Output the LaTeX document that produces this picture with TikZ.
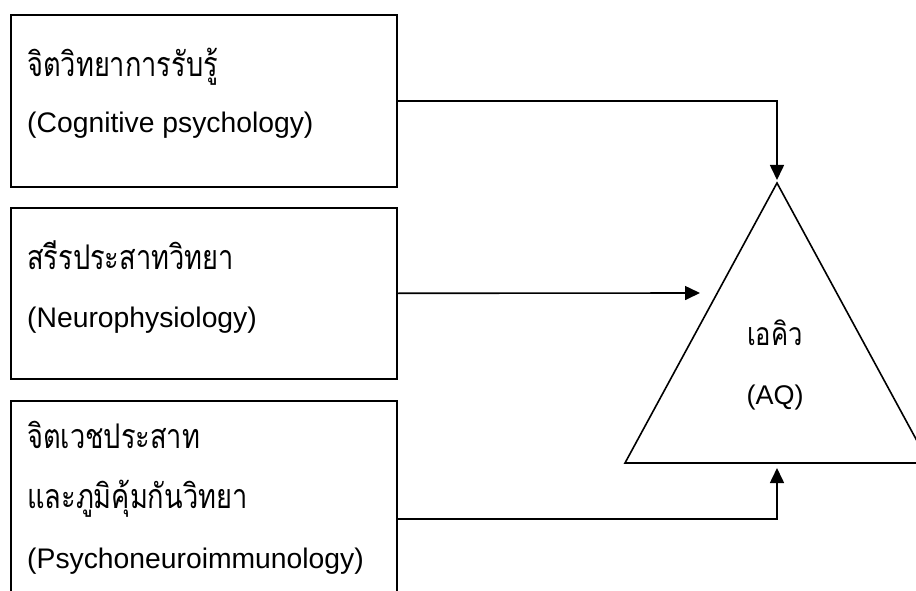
\documentclass[tikz,border=0pt]{standalone}
\usepackage{graphicx}
\usepackage{fontspec}
\setmainfont{Liberation Sans}
\newfontfamily\thaifont[Script=Thai]{Loma}
\usetikzlibrary{arrows.meta}
\newcommand\thcond[1]{\scalebox{0.8}[1]{#1}}
\tikzset{
  box/.style={draw,line width=1.6pt,minimum width=386pt,anchor=north west,inner sep=0pt},
  lbl/.style={anchor=base west,inner sep=0pt,font=\fontsize{28.3}{30}\selectfont},
  tlbl/.style={anchor=base west,inner sep=0pt,font=\fontsize{34}{36}\selectfont\thaifont},
  clbl/.style={anchor=base,inner sep=0pt,font=\fontsize{27}{30}\selectfont},
  tclbl/.style={anchor=base,inner sep=0pt,font=\fontsize{32}{34}\selectfont\thaifont},
  arr/.style={line width=1.6pt,-{Triangle[length=15pt,width=14pt]}},
  edge/.style={line width=1.6pt,line join=miter}
}
\begin{document}
\begin{tikzpicture}[x=1pt,y=-1pt]
\useasboundingbox (0,0) rectangle (916,591);
\begin{scope}
\clip (0,0) rectangle (916,591);
\node[box,minimum height=172pt] (b1) at (10,14) {};
\node[box,minimum height=171pt] (b2) at (10,207) {};
\node[box,minimum height=236pt] (b3) at (10,400) {};
\coordinate (apex) at (777,183);
\coordinate (left) at (625,463);
\coordinate (right) at (929,463);
\draw[edge] (apex) -- (left) -- (right) -- cycle;
\end{scope}
\node[tlbl] (t1a) at (27,77) {\thcond{จิตวิทยาการรับรู้}};
\node[lbl] (t1b) at (27,133) {(Cognitive psychology)};
\node[tlbl] (t2a) at (27,269) {\thcond{สรีรประสาทวิทยา}};
\node[lbl] (t2b) at (27,327) {(Neurophysiology)};
\node[tlbl] (t3a) at (27,448) {\thcond{จิตเวชประสาท}};
\node[tlbl] (t3b) at (27,508) {\thcond{และภูมิคุ้มกันวิทยา}};
\node[lbl] (t3c) at (27,568) {(Psychoneuroimmunology)};
\node[tclbl] (aq1) at (775,345) {\thcond{เอคิว}};
\node[clbl] (aq2) at (775,404) {(AQ)};
\coordinate (e1) at (777,180);
\coordinate (e2) at (700,293);
\coordinate (e3) at (777,468);
\draw[arr] (b1.east) -| (e1);
\draw[arr] (b2.east) -- (e2);
\draw[arr] (b3.east) -| (e3);
\end{tikzpicture}
\end{document}
